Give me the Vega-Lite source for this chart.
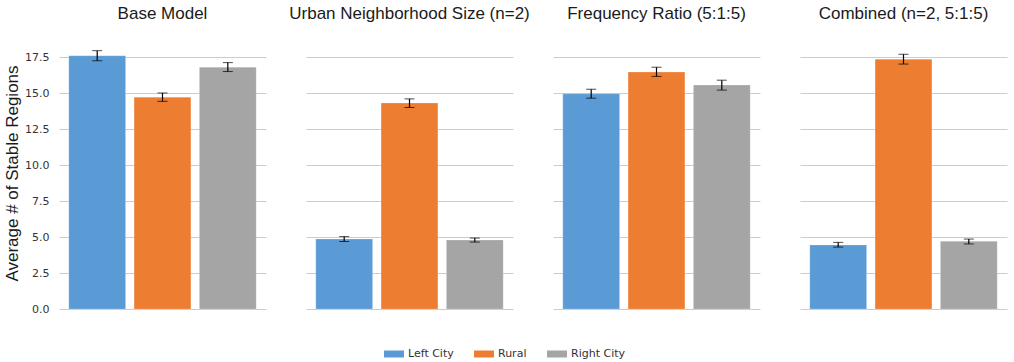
{
  "$schema": "https://vega.github.io/schema/vega-lite/v6.json",
  "background": "white",
  "padding": {"left": 3, "top": 5, "right": 5, "bottom": 5},
  "data": {"values": [
    {"panel": "Base Model", "group": "Left City", "mean": 17.6, "lo": 17.25, "hi": 17.95},
    {"panel": "Base Model", "group": "Rural", "mean": 14.72, "lo": 14.43, "hi": 15.01},
    {"panel": "Base Model", "group": "Right City", "mean": 16.8, "lo": 16.5, "hi": 17.12},
    {"panel": "Urban Neighborhood Size (n=2)", "group": "Left City", "mean": 4.86, "lo": 4.69, "hi": 5.03},
    {"panel": "Urban Neighborhood Size (n=2)", "group": "Rural", "mean": 14.31, "lo": 14.0, "hi": 14.6},
    {"panel": "Urban Neighborhood Size (n=2)", "group": "Right City", "mean": 4.79, "lo": 4.65, "hi": 4.93},
    {"panel": "Frequency Ratio (5:1:5)", "group": "Left City", "mean": 14.95, "lo": 14.65, "hi": 15.27},
    {"panel": "Frequency Ratio (5:1:5)", "group": "Rural", "mean": 16.46, "lo": 16.16, "hi": 16.8},
    {"panel": "Frequency Ratio (5:1:5)", "group": "Right City", "mean": 15.56, "lo": 15.21, "hi": 15.9},
    {"panel": "Combined (n=2, 5:1:5)", "group": "Left City", "mean": 4.45, "lo": 4.3, "hi": 4.63},
    {"panel": "Combined (n=2, 5:1:5)", "group": "Rural", "mean": 17.36, "lo": 17.02, "hi": 17.7},
    {"panel": "Combined (n=2, 5:1:5)", "group": "Right City", "mean": 4.7, "lo": 4.52, "hi": 4.86}
  ]},
  "facet": {
    "column": {
      "field": "panel", "type": "nominal",
      "sort": ["Base Model", "Urban Neighborhood Size (n=2)", "Frequency Ratio (5:1:5)", "Combined (n=2, 5:1:5)"],
      "header": {"title": null, "labelFontSize": 17, "labelFont": "Liberation Sans", "labelColor": "#1a1a1a", "labelPadding": 14}
    }
  },
  "spacing": 40,
  "spec": {
    "width": 207,
    "height": 272,
    "layer": [
      {
        "mark": {"type": "bar", "stroke": "white", "strokeOpacity": 0.2, "strokeWidth": 1},
        "encoding": {
          "x": {"field": "group", "type": "nominal", "sort": ["Left City", "Rural", "Right City"], "axis": null,
                "scale": {"paddingInner": 0.13, "paddingOuter": 0.15}},
          "y": {"field": "mean", "type": "quantitative",
                "scale": {"domain": [0, 18.9], "nice": false},
                "axis": {"title": "Average # of Stable Regions", "values": [0, 2.5, 5, 7.5, 10, 12.5, 15, 17.5], "format": ".1f",
                         "domain": false, "ticks": false, "labelPadding": 10, "labelFont": "DejaVu Sans", "labelFontSize": 11,
                         "labelColor": "#333333", "titleFont": "Liberation Sans", "titleFontSize": 17, "titleFontWeight": "normal",
                         "titleColor": "#1a1a1a", "titlePadding": 3, "grid": true, "gridColor": "#cccccc"}},
          "color": {"field": "group", "type": "nominal", "sort": ["Left City", "Rural", "Right City"],
                    "scale": {"domain": ["Left City", "Rural", "Right City"], "range": ["#5B9BD5", "#ED7D31", "#A5A5A5"]},
                    "legend": {"title": null, "orient": "bottom", "direction": "horizontal",
                               "symbolType": "M-1,-0.35H1V0.35H-1Z", "symbolSize": 400, "symbolStrokeWidth": 0,
                               "labelFont": "DejaVu Sans", "labelFontSize": 11, "labelColor": "#333333", "columnPadding": 20, "offset": 30}}
        }
      },
      {
        "mark": {"type": "errorbar", "ticks": {"size": 10, "color": "black", "thickness": 1}, "rule": {"color": "black", "strokeWidth": 1.2}},
        "encoding": {
          "x": {"field": "group", "type": "nominal", "sort": ["Left City", "Rural", "Right City"]},
          "y": {"field": "lo", "type": "quantitative",
                "axis": {"title": "Average # of Stable Regions", "values": [0, 2.5, 5, 7.5, 10, 12.5, 15, 17.5], "format": ".1f",
                         "domain": false, "ticks": false, "labelPadding": 10, "labelFont": "DejaVu Sans", "labelFontSize": 11,
                         "labelColor": "#333333", "titleFont": "Liberation Sans", "titleFontSize": 17, "titleFontWeight": "normal",
                         "titleColor": "#1a1a1a", "titlePadding": 3, "grid": true, "gridColor": "#cccccc"}},
          "y2": {"field": "hi"}
        }
      }
    ]
  },
  "config": {"view": {"stroke": null}, "legend": {"layout": {"bottom": {"anchor": "middle"}}}}
}
